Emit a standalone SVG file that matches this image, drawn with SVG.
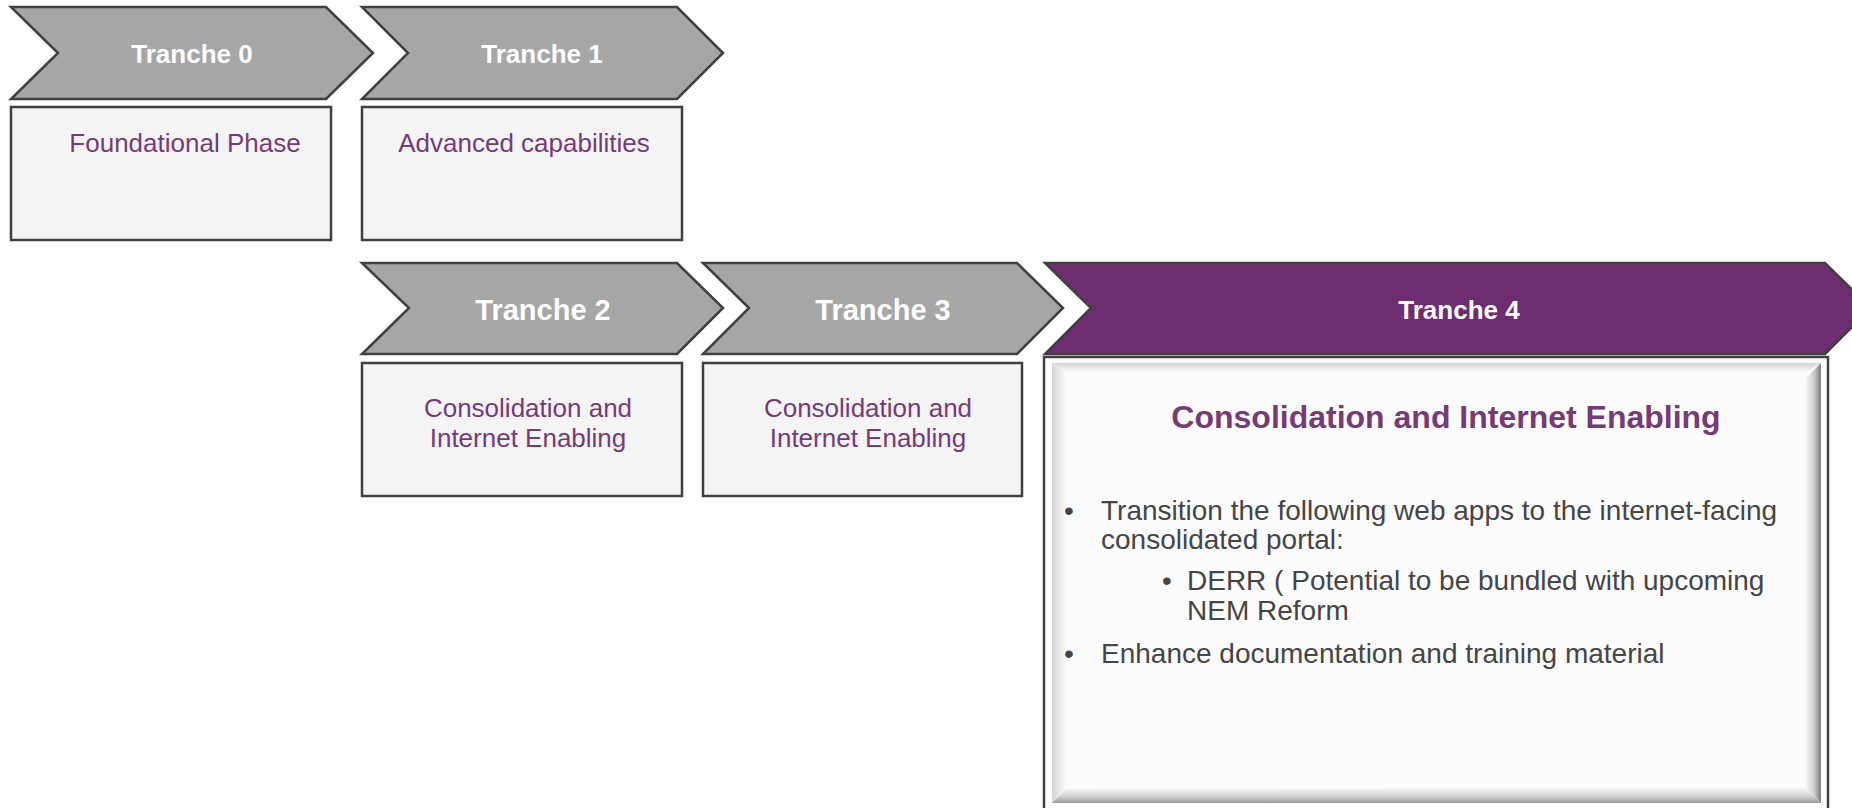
<svg xmlns="http://www.w3.org/2000/svg" width="1852" height="808" viewBox="0 0 1852 808">
<style>
.chev{fill:#A6A6A6;stroke:#404040;stroke-width:2.5;stroke-linejoin:miter}
.chevp{fill:#6E2D6F;stroke:#404040;stroke-width:2.5}
.box{fill:#F4F4F4;stroke:#404040;stroke-width:2.5}
.lbl{font-family:"Liberation Sans",Arial,sans-serif;font-weight:bold;fill:#FFFFFF;text-anchor:middle}
.sub{font-family:"Liberation Sans",Arial,sans-serif;font-size:26px;fill:#773A78;text-anchor:middle}
.title{font-family:"Liberation Sans",Arial,sans-serif;font-weight:bold;font-size:32px;fill:#773A78;text-anchor:middle}
.body{font-family:"Liberation Sans",Arial,sans-serif;font-size:28px;fill:#454545}
</style>
<defs>
<linearGradient id="gTop" x1="0" y1="0" x2="0" y2="1"><stop offset="0" stop-color="#D4D4D4"/><stop offset="1" stop-color="#FCFCFC"/></linearGradient>
<linearGradient id="gLeft" x1="0" y1="0" x2="1" y2="0"><stop offset="0" stop-color="#D4D4D4"/><stop offset="1" stop-color="#FCFCFC"/></linearGradient>
<linearGradient id="gRight" x1="0" y1="0" x2="1" y2="0"><stop offset="0" stop-color="#FCFCFC"/><stop offset="0.6" stop-color="#C8C8C8"/><stop offset="1" stop-color="#7A7A7A"/></linearGradient>
<linearGradient id="gBot" x1="0" y1="0" x2="0" y2="1"><stop offset="0" stop-color="#FCFCFC"/><stop offset="0.6" stop-color="#D0D0D0"/><stop offset="1" stop-color="#9A9A9A"/></linearGradient>
</defs>
<rect width="1852" height="808" fill="#FFFFFF"/>
<g id="connectors"/>
<g id="tranche0">
<polygon class="chev" points="11,7 326,7 373,53 326,99 11,99 58,53"/>
<text class="lbl" x="192" y="63" font-size="26">Tranche 0</text>
<rect class="box" x="11" y="107" width="320" height="133"/>
<text class="sub" x="185" y="152">Foundational Phase</text>
</g>
<g id="tranche1">
<polygon class="chev" points="362,7 677,7 723,53 677,99 362,99 408,53"/>
<text class="lbl" x="542" y="63" font-size="26">Tranche 1</text>
<rect class="box" x="362" y="107" width="320" height="133"/>
<text class="sub" x="524" y="152">Advanced capabilities</text>
</g>
<g id="tranche2">
<polygon class="chev" points="362,263 677,263 723,308 677,354 362,354 409,308"/>
<text class="lbl" x="543" y="320" font-size="29">Tranche 2</text>
<rect class="box" x="362" y="363" width="320" height="133"/>
<text class="sub" x="528" y="417">Consolidation and</text>
<text class="sub" x="528" y="447">Internet Enabling</text>
</g>
<g id="tranche3">
<polygon class="chev" points="703,263 1017,263 1063,308 1017,354 703,354 749,308"/>
<text class="lbl" x="883" y="320" font-size="29">Tranche 3</text>
<rect class="box" x="703" y="363" width="319" height="133"/>
<text class="sub" x="868" y="417">Consolidation and</text>
<text class="sub" x="868" y="447">Internet Enabling</text>
</g>
<g id="tranche4">
<polygon class="chevp" points="1045,263 1825,263 1871,308 1825,354 1045,354 1091,308"/>
<text class="lbl" x="1459" y="319" font-size="26">Tranche 4</text>
<rect x="1044" y="357" width="784" height="460" fill="#FFFFFF" stroke="#404040" stroke-width="2.5"/>
<rect x="1052" y="363" width="769" height="440" fill="#FCFCFC"/>
<polygon points="1052,363 1821,363 1807,372 1066,372" fill="url(#gTop)"/>
<polygon points="1052,363 1066,372 1066,789 1052,803" fill="url(#gLeft)"/>
<polygon points="1821,363 1821,803 1805,787 1805,379" fill="url(#gRight)"/>
<polygon points="1052,803 1821,803 1805,787 1066,789" fill="url(#gBot)"/>
<text class="title" x="1446" y="428">Consolidation and Internet Enabling</text>
<text class="body" x="1064" y="520">•</text>
<text class="body" x="1101" y="520">Transition the following web apps to the internet-facing</text>
<text class="body" x="1101" y="549">consolidated portal:</text>
<text class="body" x="1162" y="590">•</text>
<text class="body" x="1187" y="590">DERR ( Potential to be bundled with upcoming</text>
<text class="body" x="1187" y="620">NEM Reform</text>
<text class="body" x="1064" y="663">•</text>
<text class="body" x="1101" y="663">Enhance documentation and training material</text>
</g>
</svg>
